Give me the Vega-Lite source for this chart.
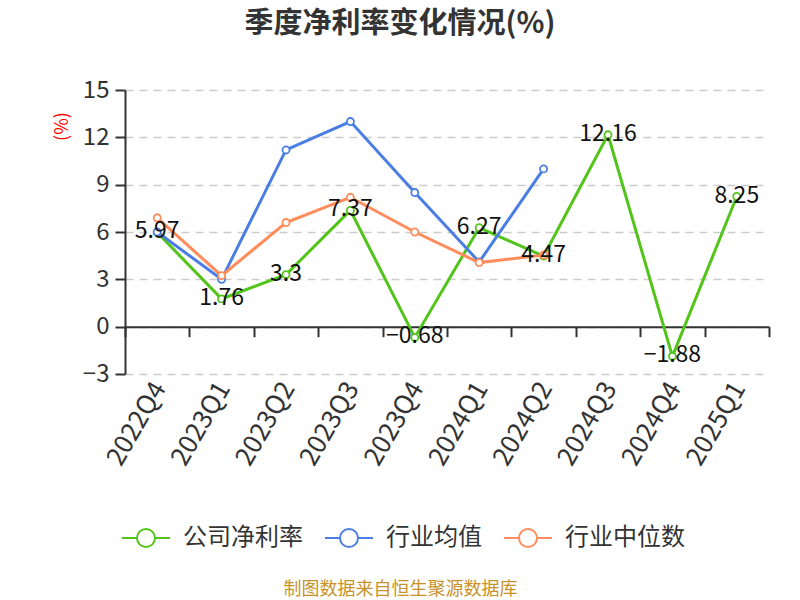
{
  "$schema": "https://vega.github.io/schema/vega-lite/v6.json",
  "width": 644,
  "height": 284,
  "autosize": {"type": "none"},
  "padding": {"left": 125, "top": 90, "right": 31, "bottom": 226},
  "background": "white",
  "title": {
    "text": "季度净利率变化情况(%)",
    "fontSize": 29,
    "fontWeight": "bold",
    "color": "#333333",
    "font": "Noto Sans CJK SC",
    "anchor": "middle",
    "dx": -47,
    "offset": 39
  },
  "config": {
    "font": "Noto Sans CJK SC",
    "view": {"stroke": null}
  },
  "data": {
    "values": [
      {"quarter": "2022Q4", "series": "公司净利率", "value": 5.97},
      {"quarter": "2023Q1", "series": "公司净利率", "value": 1.76},
      {"quarter": "2023Q2", "series": "公司净利率", "value": 3.3},
      {"quarter": "2023Q3", "series": "公司净利率", "value": 7.37},
      {"quarter": "2023Q4", "series": "公司净利率", "value": -0.68},
      {"quarter": "2024Q1", "series": "公司净利率", "value": 6.27},
      {"quarter": "2024Q2", "series": "公司净利率", "value": 4.47},
      {"quarter": "2024Q3", "series": "公司净利率", "value": 12.16},
      {"quarter": "2024Q4", "series": "公司净利率", "value": -1.88},
      {"quarter": "2025Q1", "series": "公司净利率", "value": 8.25},
      {"quarter": "2022Q4", "series": "行业均值", "value": 6.0},
      {"quarter": "2023Q1", "series": "行业均值", "value": 3.0},
      {"quarter": "2023Q2", "series": "行业均值", "value": 11.2},
      {"quarter": "2023Q3", "series": "行业均值", "value": 13.0},
      {"quarter": "2023Q4", "series": "行业均值", "value": 8.5},
      {"quarter": "2024Q1", "series": "行业均值", "value": 4.1},
      {"quarter": "2024Q2", "series": "行业均值", "value": 10.0},
      {"quarter": "2022Q4", "series": "行业中位数", "value": 6.9},
      {"quarter": "2023Q1", "series": "行业中位数", "value": 3.23},
      {"quarter": "2023Q2", "series": "行业中位数", "value": 6.6},
      {"quarter": "2023Q3", "series": "行业中位数", "value": 8.2},
      {"quarter": "2023Q4", "series": "行业中位数", "value": 6.0},
      {"quarter": "2024Q1", "series": "行业中位数", "value": 4.06},
      {"quarter": "2024Q2", "series": "行业中位数", "value": 4.54}
    ]
  },
  "encoding": {
    "x": {
      "field": "quarter",
      "type": "ordinal",
      "sort": null,
      "bandPosition": 0.5,
      "scale": {"type": "band", "paddingInner": 0, "paddingOuter": 0},
      "axis": {
        "title": "制图数据来自恒生聚源数据库",
        "titleFontSize": 18,
        "titleFontWeight": "normal",
        "titleColor": "#c8922a",
        "titleX": 275,
        "titleY": 263,
        "titleAlign": "center",
        "titleBaseline": "middle",
        "offset": -47.3,
        "domainColor": "#333333",
        "domainWidth": 2,
        "tickColor": "#333333",
        "tickWidth": 2,
        "tickSize": 10,
        "tickBand": "extent",
        "labelAngle": -60,
        "labelAlign": "right",
        "labelBaseline": "middle",
        "labelFontSize": 26,
        "labelColor": "#333333",
        "labelPadding": 47,
        "labelOffset": 2,
        "grid": false
      }
    },
    "y": {
      "field": "value",
      "type": "quantitative",
      "scale": {"domain": [-3, 15], "nice": false, "zero": false},
      "axis": {
        "title": "(%)",
        "titleColor": "#ff0000",
        "titleFontSize": 18,
        "titleFontWeight": "normal",
        "titleX": -63,
        "titleY": 36,
        "titleAlign": "center",
        "titleBaseline": "middle",
        "values": [-3, 0, 3, 6, 9, 12, 15],
        "domainColor": "#333333",
        "domainWidth": 2,
        "tickColor": "#333333",
        "tickWidth": 2,
        "tickSize": 10,
        "labelFontSize": 24,
        "labelColor": "#333333",
        "labelPadding": 6,
        "grid": true,
        "gridColor": "#cccccc",
        "gridDash": [8, 6],
        "gridWidth": 1.5
      }
    },
    "color": {
      "field": "series",
      "type": "nominal",
      "scale": {
        "domain": ["公司净利率", "行业均值", "行业中位数"],
        "range": ["#52c41a", "#4a7ee3", "#ff8c5a"]
      },
      "legend": {
        "title": null,
        "orient": "none",
        "direction": "horizontal",
        "legendX": -4,
        "legendY": 423,
        "symbolType": "M-1,0L-0.375,0M0.375,0L1,0M0.375,0A0.375,0.375,0,1,1,-0.375,0A0.375,0.375,0,1,1,0.375,0",
        "symbolSize": 2304,
        "symbolFillColor": "white",
        "symbolStrokeWidth": 2,
        "labelFontSize": 24,
        "labelColor": "#333333",
        "labelOffset": 12,
        "columnPadding": 18
      }
    }
  },
  "layer": [
    {
      "mark": {"type": "line", "strokeWidth": 3}
    },
    {
      "mark": {"type": "point", "filled": false, "fill": "white", "fillOpacity": 1, "size": 50, "strokeWidth": 1.8, "opacity": 1}
    },
    {
      "transform": [{"filter": "datum.series === '公司净利率'"}],
      "mark": {"type": "text", "fontSize": 23, "baseline": "middle", "align": "center", "dy": -1},
      "encoding": {
        "text": {"field": "value", "type": "quantitative"},
        "color": {"value": "#111111"}
      }
    }
  ]
}
